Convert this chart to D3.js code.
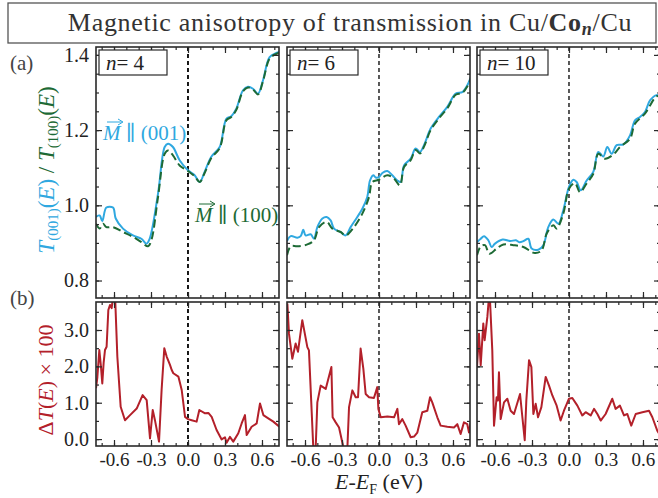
<!DOCTYPE html>
<html>
<head>
<meta charset="utf-8">
<script src="https://cdn.jsdelivr.net/npm/d3@7"></script>
<style>
  body { margin: 0; background: #fff; }
  svg text { font-family: "Liberation Serif", "DejaVu Serif", serif; fill: #222; }
</style>
</head>
<body>
<script>
// number of Co layers per column
const layers = [4, 6, 10];

// tick values
const eTicks = [-0.6, -0.3, 0, 0.3, 0.6];
const tTicks = [0.8, 1.0, 1.2, 1.4];
const dTicks = [0, 1, 2, 3];

// transmission ratio T(001)/T(100) curves, [E - EF, value]
const t001_n4 = [[-0.746,0.969],[-0.716,0.973],[-0.695,0.958],[-0.662,0.994],[-0.608,0.994],[-0.586,0.965],[-0.527,0.938],[-0.446,0.92],[-0.378,0.911],[-0.338,0.898],[-0.311,0.911],[-0.243,1.031],[-0.189,1.155],[-0.162,1.164],[-0.122,1.155],[-0.068,1.12],[0.0,1.093],[0.054,1.08],[0.095,1.062],[0.135,1.089],[0.189,1.129],[0.257,1.155],[0.311,1.23],[0.351,1.237],[0.392,1.257],[0.446,1.306],[0.486,1.315],[0.527,1.31],[0.568,1.297],[0.608,1.332],[0.662,1.394],[0.716,1.405],[0.74,1.408]];
const t100_n4 = [[-0.746,0.951],[-0.716,0.938],[-0.689,0.951],[-0.662,0.942],[-0.608,0.942],[-0.527,0.929],[-0.446,0.916],[-0.378,0.902],[-0.324,0.891],[-0.297,0.907],[-0.243,1.022],[-0.189,1.137],[-0.162,1.146],[-0.122,1.133],[-0.068,1.106],[0.0,1.091],[0.054,1.077],[0.095,1.062],[0.135,1.086],[0.189,1.126],[0.257,1.152],[0.311,1.226],[0.351,1.235],[0.392,1.254],[0.446,1.303],[0.486,1.313],[0.527,1.308],[0.568,1.295],[0.608,1.33],[0.662,1.39],[0.716,1.403],[0.74,1.406]];

const t001_n6 = [[-0.746,0.905],[-0.716,0.918],[-0.662,0.914],[-0.635,0.918],[-0.614,0.935],[-0.595,0.92],[-0.554,0.923],[-0.527,0.911],[-0.5,0.942],[-0.459,0.965],[-0.424,0.969],[-0.392,0.96],[-0.365,0.938],[-0.311,0.929],[-0.27,0.92],[-0.23,0.942],[-0.176,0.969],[-0.135,0.991],[-0.095,1.022],[-0.073,1.066],[-0.046,1.08],[-0.027,1.074],[0.0,1.075],[0.027,1.086],[0.068,1.091],[0.108,1.08],[0.149,1.066],[0.176,1.062],[0.203,1.106],[0.257,1.124],[0.297,1.151],[0.332,1.142],[0.365,1.16],[0.419,1.204],[0.486,1.235],[0.554,1.262],[0.622,1.297],[0.676,1.301],[0.716,1.319],[0.745,1.341]];
const t100_n6 = [[-0.746,0.867],[-0.716,0.891],[-0.662,0.891],[-0.581,0.896],[-0.527,0.907],[-0.486,0.942],[-0.424,0.956],[-0.378,0.938],[-0.311,0.929],[-0.27,0.92],[-0.203,0.942],[-0.135,0.978],[-0.081,1.022],[-0.054,1.062],[0.0,1.068],[0.068,1.08],[0.122,1.071],[0.17,1.053],[0.203,1.102],[0.257,1.12],[0.297,1.147],[0.332,1.138],[0.365,1.156],[0.419,1.2],[0.486,1.231],[0.554,1.258],[0.622,1.294],[0.676,1.299],[0.716,1.316],[0.745,1.338]];

const t001_n10 = [[-0.746,0.902],[-0.716,0.911],[-0.689,0.918],[-0.654,0.907],[-0.627,0.889],[-0.6,0.898],[-0.538,0.909],[-0.478,0.905],[-0.43,0.907],[-0.403,0.902],[-0.368,0.905],[-0.33,0.911],[-0.303,0.885],[-0.249,0.882],[-0.208,0.894],[-0.168,0.942],[-0.127,0.962],[-0.086,0.951],[-0.046,0.987],[0.0,1.049],[0.035,1.068],[0.062,1.062],[0.095,1.04],[0.143,1.066],[0.197,1.089],[0.238,1.142],[0.278,1.13],[0.311,1.155],[0.346,1.137],[0.386,1.16],[0.441,1.162],[0.495,1.186],[0.535,1.226],[0.576,1.235],[0.616,1.248],[0.657,1.279],[0.711,1.293],[0.74,1.29]];
const t100_n10 = [[-0.746,0.867],[-0.716,0.891],[-0.681,0.894],[-0.646,0.871],[-0.586,0.885],[-0.532,0.896],[-0.451,0.894],[-0.37,0.889],[-0.276,0.873],[-0.222,0.88],[-0.181,0.925],[-0.127,0.947],[-0.1,0.938],[-0.046,0.978],[0.0,1.044],[0.049,1.059],[0.089,1.035],[0.143,1.058],[0.197,1.084],[0.238,1.137],[0.292,1.124],[0.359,1.135],[0.413,1.155],[0.495,1.177],[0.535,1.217],[0.616,1.244],[0.711,1.29],[0.74,1.288]];

// difference Delta T(E) x 100
const dT_n4 = [[-0.746,1.4],[-0.735,1.7],[-0.719,2.45],[-0.706,2.0],[-0.695,1.53],[-0.684,2.1],[-0.673,2.45],[-0.66,2.54],[-0.646,3.55],[-0.632,3.69],[-0.619,3.6],[-0.605,4.0],[-0.592,4.0],[-0.573,2.27],[-0.546,0.89],[-0.511,0.52],[-0.47,0.66],[-0.416,0.84],[-0.368,1.21],[-0.335,1.07],[-0.308,0.02],[-0.286,0.8],[-0.268,0.52],[-0.235,-0.07],[-0.214,1.35],[-0.192,2.5],[-0.173,2.27],[-0.146,2.04],[-0.132,1.9],[-0.119,1.81],[-0.078,1.72],[-0.051,1.35],[-0.024,0.61],[0.0,0.55],[0.03,0.52],[0.07,0.48],[0.092,0.8],[0.138,0.71],[0.165,0.72],[0.192,0.61],[0.232,0.25],[0.273,-0.01],[0.3,0.05],[0.313,-0.1],[0.34,0.06],[0.367,-0.07],[0.408,0.16],[0.435,0.43],[0.462,0.66],[0.476,0.11],[0.516,0.34],[0.557,0.43],[0.584,0.98],[0.611,0.66],[0.651,0.57],[0.692,0.48],[0.741,0.34]];
const dT_n6 = [[-0.743,3.73],[-0.73,2.9],[-0.703,2.21],[-0.676,2.63],[-0.657,2.4],[-0.622,3.27],[-0.581,2.53],[-0.568,2.44],[-0.532,-0.3],[-0.514,-0.3],[-0.5,1.01],[-0.473,1.47],[-0.432,1.38],[-0.397,1.84],[-0.386,1.98],[-0.376,0.6],[-0.351,0.46],[-0.324,0.32],[-0.284,-0.3],[-0.257,-0.3],[-0.243,0.88],[-0.216,1.34],[-0.189,1.15],[-0.17,1.15],[-0.149,2.49],[-0.127,1.94],[-0.108,1.24],[-0.081,1.15],[-0.041,1.13],[-0.014,1.43],[-0.005,0.83],[0.014,0.6],[0.068,0.62],[0.122,0.6],[0.149,0.83],[0.162,0.41],[0.189,0.55],[0.216,0.37],[0.257,0.05],[0.284,0.07],[0.311,0.18],[0.351,0.74],[0.392,0.78],[0.414,1.15],[0.432,1.01],[0.473,0.6],[0.5,0.37],[0.554,0.34],[0.608,0.32],[0.635,0.41],[0.662,0.14],[0.689,0.46],[0.716,0.41],[0.73,0.18],[0.743,0.46]];
const dT_n10 = [[-0.746,1.98],[-0.73,2.9],[-0.716,2.03],[-0.695,3.18],[-0.684,2.72],[-0.662,3.36],[-0.649,3.9],[-0.641,3.85],[-0.622,2.44],[-0.608,0.37],[-0.587,1.15],[-0.576,1.06],[-0.568,1.84],[-0.554,0.55],[-0.527,1.01],[-0.5,1.11],[-0.473,0.78],[-0.446,0.69],[-0.397,1.24],[-0.378,0.6],[-0.359,-0.03],[-0.346,1.06],[-0.324,2.17],[-0.305,1.98],[-0.289,0.69],[-0.27,0.97],[-0.251,0.6],[-0.224,0.88],[-0.189,1.71],[-0.162,1.47],[-0.135,1.2],[-0.1,0.92],[-0.068,0.51],[-0.041,0.78],[0.0,1.11],[0.027,1.13],[0.068,0.92],[0.108,0.65],[0.135,0.74],[0.176,0.65],[0.203,0.83],[0.23,0.69],[0.257,0.51],[0.297,0.69],[0.351,1.11],[0.378,0.83],[0.413,0.92],[0.446,0.65],[0.473,0.69],[0.505,0.37],[0.541,0.69],[0.595,0.74],[0.649,0.78],[0.676,0.6],[0.716,0.23],[0.74,0.1]];

const series001 = [t001_n4, t001_n6, t001_n10];
const series100 = [t100_n4, t100_n6, t100_n10];
const seriesDiff = [dT_n4, dT_n6, dT_n10];

// colours
const blue = "#2fa8e0", green = "#1d6a35", red = "#b3202a", frameColor = "#2a2a2a";

// layout
const W = 658, H = 498;
const panelLeft = [96, 287, 477];
const panelW = 183;
const aTop = 47, aH = 251;
const bTop = 302, bH = 144;

const svg = d3.select("body").append("svg")
  .attr("width", W)
  .attr("height", H);

// scales shared by all columns
const x = d3.scaleLinear().domain([-0.746, 0.738]).range([0, panelW]);
const yA = d3.scaleLinear().domain([0.7535, 1.421]).range([aH, 0]);
const yB = d3.scaleLinear().domain([-0.19, 3.77]).range([bH, 0]);

const eMinor = d3.range(-7, 8).map(d => d / 10);
const tMinor = d3.range(16, 29).map(d => d * 0.05);
const dMinor = d3.range(0, 8).map(d => d * 0.5);

const lineA = d3.line().x(d => x(d[0])).y(d => yA(d[1])).curve(d3.curveCatmullRom.alpha(0.5));
const lineB = d3.line().x(d => x(d[0])).y(d => yB(d[1]));

// title box
svg.append("rect")
  .attr("x", 8).attr("y", 3).attr("width", 648).attr("height", 40)
  .attr("fill", "none").attr("stroke", "#555").attr("stroke-width", 1.3);

const title = svg.append("text")
  .attr("x", 350).attr("y", 31)
  .attr("text-anchor", "middle")
  .attr("font-size", 26)
  .attr("letter-spacing", 0.7)
  .style("fill", "#333");
title.append("tspan").text("Magnetic anisotropy of transmission in Cu/");
title.append("tspan").attr("font-weight", "bold").text("Co");
title.append("tspan").attr("font-weight", "bold").attr("font-style", "italic")
  .attr("font-size", 18).attr("dy", 4).text("n");
title.append("tspan").attr("dy", -4).text("/Cu");

// draws inward ticks on all four sides of a frame
function drawTicks(g, yScale, h, yMajor, yMinor, showY, yFmt) {
  const tickGroups = [
    g.append("g").attr("transform", `translate(0,${h})`).call(d3.axisBottom(x).tickValues(eTicks).tickSize(-6).tickFormat("")),
    g.append("g").attr("transform", `translate(0,${h})`).call(d3.axisBottom(x).tickValues(eMinor).tickSize(-3).tickFormat("")),
    g.append("g").call(d3.axisTop(x).tickValues(eTicks).tickSize(-6).tickFormat("")),
    g.append("g").call(d3.axisTop(x).tickValues(eMinor).tickSize(-3).tickFormat("")),
    g.append("g").call(d3.axisLeft(yScale).tickValues(yMajor).tickSize(-6).tickPadding(7)
      .tickFormat(showY ? yFmt : "")),
    g.append("g").call(d3.axisLeft(yScale).tickValues(yMinor).tickSize(-3).tickFormat("")),
    g.append("g").attr("transform", `translate(${panelW},0)`).call(d3.axisRight(yScale).tickValues(yMajor).tickSize(-6).tickFormat("")),
    g.append("g").attr("transform", `translate(${panelW},0)`).call(d3.axisRight(yScale).tickValues(yMinor).tickSize(-3).tickFormat(""))
  ];
  tickGroups.forEach(t => {
    t.select(".domain").remove();
    t.selectAll("line").attr("stroke", frameColor).attr("stroke-width", 1.2);
    t.selectAll("text").attr("font-size", 20).style("fill", "#222")
      .style("font-family", "'Liberation Serif', serif");
  });
}

layers.forEach((n, i) => {
  // ---- (a) transmission panel ----
  const gA = svg.append("g").attr("transform", `translate(${panelLeft[i]},${aTop})`);
  gA.append("clipPath").attr("id", "clipA" + i)
    .append("rect").attr("width", panelW).attr("height", aH);

  gA.append("line")
    .attr("x1", x(0)).attr("x2", x(0)).attr("y1", 0).attr("y2", aH)
    .attr("stroke", "#000").attr("stroke-width", i === 0 ? 1.8 : 1.3)
    .attr("stroke-dasharray", "4,3");

  const curves = gA.append("g").attr("clip-path", `url(#clipA${i})`);
  curves.append("path").datum(series001[i])
    .attr("d", lineA).attr("fill", "none")
    .attr("stroke", blue).attr("stroke-width", 2);
  curves.append("path").datum(series100[i])
    .attr("d", lineA).attr("fill", "none")
    .attr("stroke", green).attr("stroke-width", 2)
    .attr("stroke-dasharray", "8,4");

  drawTicks(gA, yA, aH, tTicks, tMinor, i === 0, d => d.toFixed(1));

  gA.append("rect").attr("width", panelW).attr("height", aH)
    .attr("fill", "none").attr("stroke", frameColor).attr("stroke-width", 1.6);

  // label box n = ...
  gA.append("rect").attr("x", 3).attr("y", 3).attr("width", 68).attr("height", 25)
    .attr("fill", "#fff").attr("stroke", frameColor).attr("stroke-width", 1.2);
  const nt = gA.append("text").attr("x", 10).attr("y", 23).attr("font-size", 21);
  nt.append("tspan").attr("font-style", "italic").text("n");
  nt.append("tspan").text("= " + n);

  // ---- (b) difference panel ----
  const gB = svg.append("g").attr("transform", `translate(${panelLeft[i]},${bTop})`);
  gB.append("clipPath").attr("id", "clipB" + i)
    .append("rect").attr("width", panelW).attr("height", bH);

  gB.append("line")
    .attr("x1", x(0)).attr("x2", x(0)).attr("y1", 0).attr("y2", bH)
    .attr("stroke", "#000").attr("stroke-width", i === 0 ? 1.8 : 1.3)
    .attr("stroke-dasharray", "4,3");

  gB.append("g").attr("clip-path", `url(#clipB${i})`)
    .append("path").datum(seriesDiff[i])
    .attr("d", lineB).attr("fill", "none")
    .attr("stroke", red).attr("stroke-width", 2)
    .attr("stroke-linejoin", "round");

  drawTicks(gB, yB, bH, dTicks, dMinor, i === 0, d => d.toFixed(1));

  // energy tick labels
  gB.append("g")
    .attr("transform", `translate(0,${bH})`)
    .call(d3.axisBottom(x).tickValues(eTicks).tickSize(0).tickPadding(7).tickFormat(d => d.toFixed(1)))
    .call(g => g.select(".domain").remove())
    .selectAll("text").attr("font-size", 19).style("fill", "#222")
    .style("font-family", "'Liberation Serif', serif");

  gB.append("rect").attr("width", panelW).attr("height", bH)
    .attr("fill", "none").attr("stroke", frameColor).attr("stroke-width", 1.6);
});

// annotations in the n = 4 panel
function magLabel(px, py, label, color) {
  const t = svg.append("text").attr("x", px).attr("y", py).attr("font-size", 21).style("fill", color);
  t.append("tspan").attr("font-style", "italic").text("M");
  t.append("tspan").text(" \u2225 " + label);
  svg.append("line")
    .attr("x1", px + 4).attr("x2", px + 19).attr("y1", py - 18).attr("y2", py - 18)
    .attr("stroke", color).attr("stroke-width", 1);
  svg.append("path")
    .attr("d", `M${px + 15},${py - 21} L${px + 20},${py - 18} L${px + 15},${py - 15}`)
    .attr("fill", "none").attr("stroke", color).attr("stroke-width", 1);
}
magLabel(103, 140, "(001)", blue);
magLabel(195, 222, "(100)", green);

// panel letters
svg.append("text").attr("x", 10).attr("y", 70).attr("font-size", 21).style("fill", "#444").text("(a)");
svg.append("text").attr("x", 10).attr("y", 305).attr("font-size", 21).style("fill", "#444").text("(b)");

// y label for (a)
const yLabA = svg.append("text")
  .attr("transform", "translate(54,170) rotate(-90)")
  .attr("text-anchor", "middle")
  .attr("font-size", 23);
yLabA.append("tspan").attr("font-style", "italic").style("fill", blue).text("T");
yLabA.append("tspan").attr("font-size", 15).attr("dy", 4).style("fill", blue).text("(001)");
yLabA.append("tspan").attr("dy", -4).style("fill", blue).text("(");
yLabA.append("tspan").attr("font-style", "italic").style("fill", blue).text("E");
yLabA.append("tspan").style("fill", blue).text(")");
yLabA.append("tspan").style("fill", green).text(" / ");
yLabA.append("tspan").attr("font-style", "italic").style("fill", green).text("T");
yLabA.append("tspan").attr("font-size", 15).attr("dy", 4).style("fill", green).text("(100)");
yLabA.append("tspan").attr("dy", -4).style("fill", green).text("(");
yLabA.append("tspan").attr("font-style", "italic").style("fill", green).text("E");
yLabA.append("tspan").style("fill", green).text(")");

// y label for (b)
const yLabB = svg.append("text")
  .attr("transform", "translate(53,380) rotate(-90)")
  .attr("text-anchor", "middle")
  .attr("font-size", 22)
  .style("fill", red);
yLabB.append("tspan").text("\u0394");
yLabB.append("tspan").attr("font-style", "italic").text("T");
yLabB.append("tspan").text("(");
yLabB.append("tspan").attr("font-style", "italic").text("E");
yLabB.append("tspan").text(") \u00d7 100");

// x label
const xLab = svg.append("text")
  .attr("x", 379).attr("y", 489)
  .attr("text-anchor", "middle")
  .attr("font-size", 22);
xLab.append("tspan").attr("font-style", "italic").text("E");
xLab.append("tspan").text("-");
xLab.append("tspan").attr("font-style", "italic").text("E");
xLab.append("tspan").attr("font-size", 14).attr("dy", 5).text("F");
xLab.append("tspan").attr("dy", -5).text(" (eV)");
</script>
</body>
</html>
